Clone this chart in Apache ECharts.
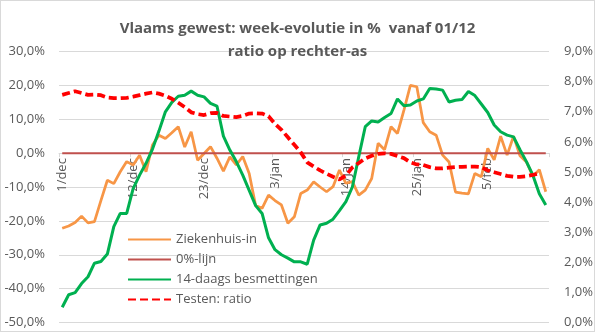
<!DOCTYPE html>
<html>
<head>
<meta charset="utf-8">
<script src="https://cdn.jsdelivr.net/npm/echarts@6/dist/echarts.min.js"></script>
<style>
  html, body { margin: 0; padding: 0; background: #ffffff; }
  #wrap { position: relative; width: 595px; height: 332px; }
  #chart { position: absolute; left: 0; top: 0; width: 595px; height: 332px; }
  #frame { position: absolute; left: 0; top: 0; width: 595px; height: 332px; box-sizing: border-box; border: 1px solid #D9D9D9; pointer-events: none; }
</style>
</head>
<body>
<div id="wrap"><div id="chart"></div><div id="frame"></div></div>
<script>
// Dates from 1 December to 14 February, one per day
const monthDays = [['dec', 31], ['jan', 31], ['feb', 14]];
const categories = [];
monthDays.forEach(([m, n]) => { for (let d = 1; d <= n; d++) categories.push(d + '/' + m); });

// Week-on-week change of hospital admissions (%)
const ziekenhuisIn = [
  -22.2, -21.5, -20.5, -18.6, -20.6, -20.2, -14.0, -8.0, -9.0, -5.5,
  -2.5, -3.5, -0.6, -5.5, 2.4, 5.3, 4.3, 6.0, 7.8, 1.8,
  6.3, -2.1, -0.1, 1.9, -1.5, -5.3, -1.1, -3.5, -1.0, -6.0,
  -15.5, -16.3, -12.4, -14.0, -15.3, -20.7, -18.8, -11.9, -10.9, -8.5,
  -10.0, -11.4, -9.9, -5.0, -8.9, -8.4, -12.4, -10.9, -7.5, 2.9,
  1.0, 7.8, 5.8, 12.7, 20.0, 19.6, 9.0, 6.3, 5.3, -0.6,
  -2.6, -11.5, -11.8, -12.0, -6.0, -7.0, 1.4, -2.0, 5.0, -0.6,
  5.0, -0.8, -2.6, -6.8, -4.9, -11.4
];

// Reference line at 0 %
const nulLijn = [
  0, 0, 0, 0, 0, 0, 0, 0, 0, 0, 0, 0, 0, 0, 0, 0, 0, 0, 0, 0,
  0, 0, 0, 0, 0, 0, 0, 0, 0, 0, 0, 0, 0, 0, 0, 0, 0, 0, 0, 0,
  0, 0, 0, 0, 0, 0, 0, 0, 0, 0, 0, 0, 0, 0, 0, 0, 0, 0, 0, 0,
  0, 0, 0, 0, 0, 0, 0, 0, 0, 0, 0, 0, 0, 0, 0, 0
];

// Week-on-week change of 14-day infections (%)
const besmettingen14d = [
  -45.5, -41.8, -41.2, -38.5, -36.5, -32.5, -32.0, -29.8, -21.7, -17.8,
  -17.8, -10.5, -6.5, -3.0, 1.2, 6.5, 12.2, 15.0, 16.8, 17.1,
  18.3, 17.1, 16.6, 14.7, 13.9, 5.0, 0.9, -2.5, -6.5, -11.0,
  -15.5, -17.8, -25.0, -28.5, -30.0, -31.0, -32.1, -32.1, -32.8, -25.7,
  -21.2, -20.7, -19.5, -17.0, -14.3, -10.0, -1.0, 7.8, 9.5, 9.2,
  10.5, 11.7, 16.0, 14.0, 14.2, 15.4, 16.0, 19.1, 18.9, 18.6,
  15.1, 15.6, 15.8, 18.2, 17.0, 14.5, 12.0, 8.3, 6.3, 5.3,
  4.8, 1.0, -2.5, -6.5, -12.0, -15.3
];

// Positivity ratio of tests (%), right-hand axis
const testenRatio = [
  7.56, 7.62, 7.68, 7.62, 7.56, 7.57, 7.55, 7.47, 7.45, 7.45,
  7.46, 7.50, 7.55, 7.60, 7.64, 7.60, 7.53, 7.43, 7.30, 7.15,
  6.98, 6.92, 6.89, 6.95, 6.96, 6.86, 6.84, 6.82, 6.86, 6.94,
  6.95, 6.94, 6.85, 6.60, 6.40, 6.15, 5.90, 5.65, 5.32, 5.18,
  5.05, 4.94, 4.84, 4.75, 4.88, 5.15, 5.30, 5.45, 5.54, 5.60,
  5.62, 5.60, 5.53, 5.46, 5.32, 5.25, 5.23, 5.16, 5.12, 5.12,
  5.14, 5.16, 5.17, 5.18, 5.18, 5.16, 5.05, 4.99, 4.93, 4.87,
  4.84, 4.84, 4.86, 4.90, 4.96, null
];

const leftTicks = { min: -50, max: 30, step: 10 };
const rightTicks = { min: 0, max: 9, step: 1 };

const FONT = '"Open Sans", Lato, sans-serif';
const TXT = '#595959';
const pct = v => v.toFixed(1).replace('.', ',') + '%';

// Plot rectangle
const GRID = { left: 59, right: 46, top: 51.5, bottom: 9.5 };
const plotH = 332 - GRID.top - GRID.bottom;
// The category axis sits on the 0 % line of the left axis
const zeroFromBottom = plotH * (0 - leftTicks.min) / (leftTicks.max - leftTicks.min);

const chart = echarts.init(document.getElementById('chart'), null, { renderer: 'canvas' });
chart.setOption({
  animation: false,
  backgroundColor: '#ffffff',
  textStyle: { fontFamily: FONT },
  title: [
    {
      text: 'Vlaams gewest: week-evolutie in %  vanaf 01/12',
      left: 'center', top: 15,
      textStyle: { fontFamily: FONT, fontSize: 15, fontWeight: 'bold', color: TXT, lineHeight: 18 }
    },
    {
      text: 'ratio op rechter-as',
      left: 'center', top: 38,
      textStyle: { fontFamily: FONT, fontSize: 15, fontWeight: 'bold', color: TXT, lineHeight: 18 }
    }
  ],
  legend: {
    orient: 'vertical',
    left: 127, top: 233, padding: 0,
    itemWidth: 43, itemHeight: 14, itemGap: 7,
    itemStyle: { opacity: 0 },
    textStyle: { fontFamily: FONT, fontSize: 13, color: TXT },
    data: ['Ziekenhuis-in', '0%-lijn', '14-daags besmettingen', 'Testen: ratio']
  },
  grid: { left: GRID.left, right: GRID.right, top: GRID.top, bottom: GRID.bottom, containLabel: false, outerBoundsMode: 'none' },
  xAxis: {
    type: 'category',
    data: categories,
    boundaryGap: true,
    offset: -zeroFromBottom,
    axisLine: { onZero: false, lineStyle: { color: '#D9D9D9', width: 1 } },
    axisTick: { show: true, interval: 10, length: 4, lineStyle: { color: '#D9D9D9' } },
    axisLabel: { interval: 10, rotate: 90, margin: 5, color: TXT, fontSize: 13, fontFamily: FONT },
    splitLine: { show: false }
  },
  yAxis: [
    {
      type: 'value', position: 'left',
      min: leftTicks.min, max: leftTicks.max, interval: leftTicks.step,
      axisLine: { show: false }, axisTick: { show: false },
      axisLabel: { formatter: pct, color: TXT, fontSize: 13, fontFamily: FONT, margin: 14 },
      splitLine: { lineStyle: { color: '#D9D9D9', width: 1 } }
    },
    {
      type: 'value', position: 'right',
      min: rightTicks.min, max: rightTicks.max, interval: rightTicks.step,
      axisLine: { show: false }, axisTick: { show: false },
      axisLabel: { formatter: pct, color: TXT, fontSize: 13, fontFamily: FONT, margin: 15 },
      splitLine: { show: false }
    }
  ],
  series: [
    {
      name: 'Ziekenhuis-in', type: 'line', data: ziekenhuisIn,
      symbol: 'none', smooth: false,
      lineStyle: { color: '#F79646', width: 2.75 }, itemStyle: { color: '#F79646' }
    },
    {
      name: '0%-lijn', type: 'line', data: nulLijn,
      symbol: 'none',
      lineStyle: { color: '#C0504D', width: 2 }, itemStyle: { color: '#C0504D' }
    },
    {
      name: '14-daags besmettingen', type: 'line', data: besmettingen14d,
      symbol: 'none',
      lineStyle: { color: '#00B050', width: 3 }, itemStyle: { color: '#00B050' }
    },
    {
      name: 'Testen: ratio', type: 'line', yAxisIndex: 1, data: testenRatio,
      symbol: 'none',
      lineStyle: { color: '#FF0000', width: 3.75, type: [8, 4] }, itemStyle: { color: '#FF0000' }
    }
  ]
});
</script>
</body>
</html>
